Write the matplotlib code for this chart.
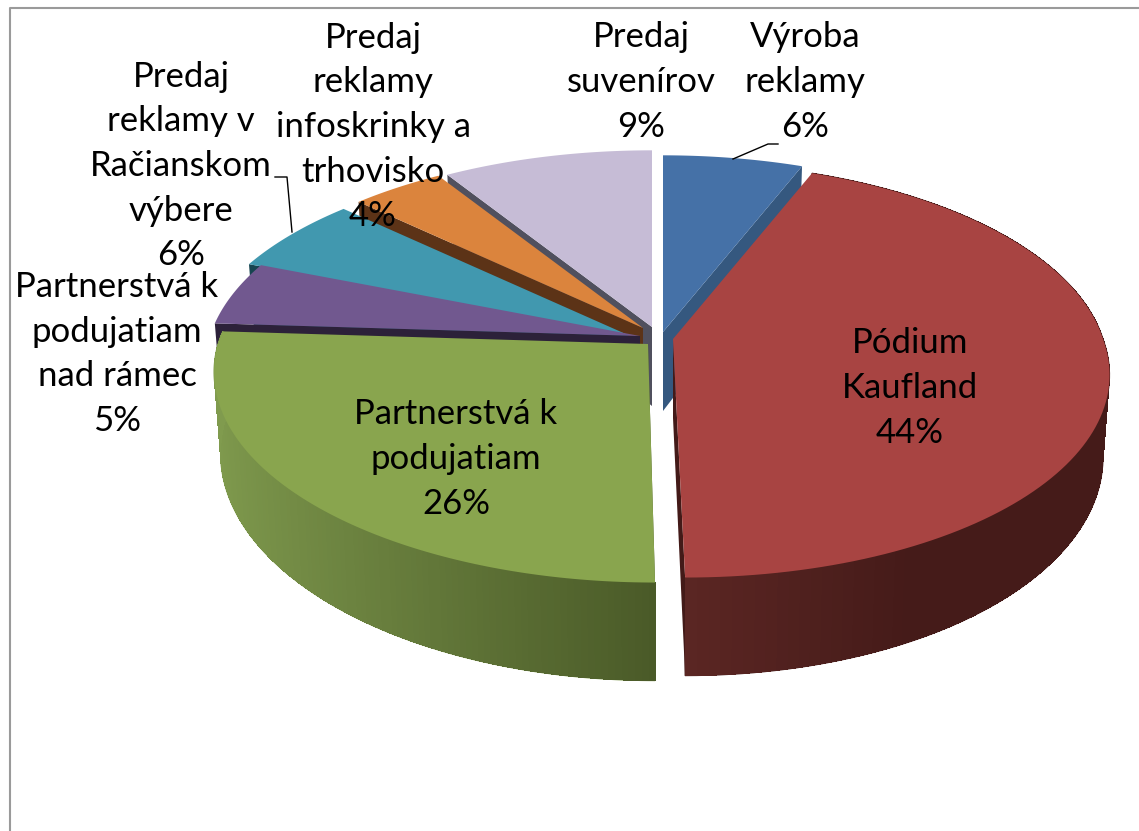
import numpy as np
import matplotlib
matplotlib.use("Agg")
import matplotlib.pyplot as plt
from matplotlib.collections import PolyCollection
from matplotlib.colors import to_rgb

# ---------- data (clockwise from 12 o'clock) ----------
categories = ["Výroba\nreklamy", "Pódium\nKaufland", "Partnerstvá k\npodujatiam",
              "Partnerstvá k\npodujatiam\nnad rámec", "Predaj\nreklamy v\nRačianskom\nvýbere",
              "Predaj\nreklamy\ninfoskrinky a\ntrhovisko", "Predaj\nsuvenírov"]
values = [6, 44, 26, 5, 6, 4, 9]

top_colors = ["#4571A7", "#A84442", "#89A54E", "#71588F", "#4198AF", "#DB843D", "#C6BCD6"]
face_colors = ["#35587F", "#431A18", "#4A5A28", "#2C2139", "#174450", "#5C3317", "#50505E"]
apex_x = [663, 673, 648, 640, 628, 643, 652]
apex_y = [332, 339, 344, 336, 335, 328, 327]
skews = [0, 0.0508, 0.0295, 0, 0, 0, 0]
label_x = [805, 910, 456, 117, 181, 373, 641]
label_y = [82, 388, 459, 354, 166, 127, 82]
draw_order = [0, 6, 5, 4, 3, 2, 1]

# ---------- projection ----------
R, S, P = 430.0, 203.0, 0.149
DEPTH, KX, KY = 79.0, 0.985, 1.08


def project(i, theta, bottom=False):
    u, v = np.sin(theta), np.cos(theta)
    w = 1 + P * v
    dx, dy = R * u / w, -S * v / w
    sk = skews[i] * np.maximum(dy, 0)
    if bottom:
        return apex_x[i] + KX * dx + sk, apex_y[i] + DEPTH + KY * dy
    return apex_x[i] + dx + sk, apex_y[i] + dy


fig = plt.figure(figsize=(11.39, 8.31), dpi=100, facecolor="white")
ax = fig.add_axes([0, 0, 1, 1])
ax.set_xlim(0, 1139)
ax.set_ylim(831, 0)
ax.axis("off")
plt.rcParams["font.family"] = ["Lato", "DejaVu Sans"]

# chart frame
ax.plot([9.5, 9.5, 1139], [831, 7.5, 7.5], color="#9A9A9A", lw=1.5, zorder=1)

edges = np.radians(np.concatenate([[0], np.cumsum(values)]) * 3.6)


def lerp(c1, c2, t):
    return np.array(to_rgb(c1)) * (1 - t) + np.array(to_rgb(c2)) * t


wall_stops = {1: ("#5B2623", "#451B19", 0.45),
              2: ("#4A5A28", "#809B4E", 1.0)}

z = 2
for i in draw_order:
    t0, t1 = edges[i], edges[i + 1]
    th = np.linspace(t0, t1, 121)
    ax_, ay_ = apex_x[i], apex_y[i]

    # radial cut face
    cut = t1 if t1 <= np.pi else t0
    if i == 1:
        cut = np.pi
    tx, ty = project(i, cut)
    bx, by = project(i, cut, bottom=True)
    ax.fill([ax_, tx, bx, ax_], [ay_, ty, by, ay_ + DEPTH], color=face_colors[i], lw=0, zorder=z)
    z += 1

    # outer wall: smooth silhouette first, banded shading on top
    if i in wall_stops:
        c0, c1, lim = wall_stops[i]
        tx_, ty_ = project(i, th)
        bx_, by_ = project(i, th, True)
        ax.fill(np.r_[tx_, bx_[::-1]], np.r_[ty_, by_[::-1]], color=c1, lw=0.8, zorder=z)
        z += 1
        quads, cols = [], []
        for a, b in zip(th[:-1], th[1:]):
            quads.append([project(i, a), project(i, b), project(i, b, True), project(i, a, True)])
            m = (a + b) / 2
            t = np.clip(abs(np.sin(m)) / lim, 0, 1)
            cols.append(lerp(c0, c1, t))
        ax.add_collection(PolyCollection(quads, facecolors=cols, edgecolors="none",
                                         antialiased=False, zorder=z))
        z += 1

    # top face
    x, y = project(i, th)
    ax.fill(np.r_[ax_, x], np.r_[ay_, y], color=top_colors[i], lw=0, zorder=z)
    z += 1

# leader lines
ax.plot([733, 768, 778], [159, 144, 144], color="black", lw=1, zorder=z)
ax.plot([275, 287, 292], [177, 177, 232], color="black", lw=1, zorder=z)

# labels
for i in range(len(values)):
    ax.text(label_x[i], label_y[i], f"{categories[i]}\n{values[i]}%", ha="center", va="center",
            fontsize=25, linespacing=1.49, color="black", zorder=z + 1)

fig.savefig("out.png", dpi=100, facecolor="white")
